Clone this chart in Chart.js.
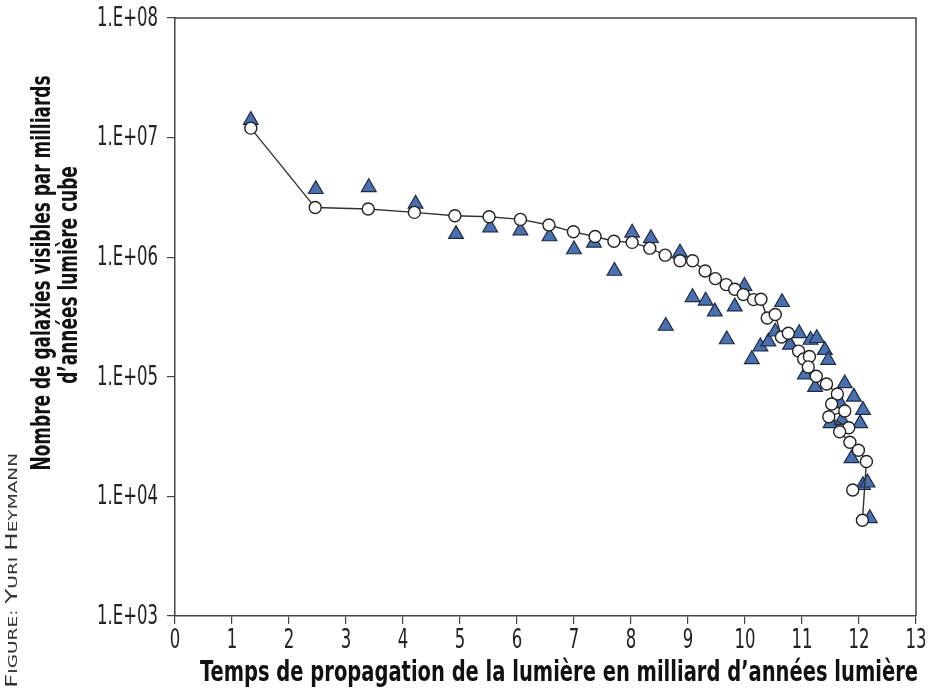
<!DOCTYPE html>
<html><head><meta charset="utf-8">
<script src="https://cdn.jsdelivr.net/npm/chart.js@4"></script>
<style>html,body{margin:0;padding:0;background:#fff;overflow:hidden}</style>
</head><body>
<canvas id="c" width="930" height="691"></canvas>
<script>
// ---- data ----
const circleX = [1.33, 2.46, 3.39, 4.20, 4.91, 5.51, 6.06, 6.56, 6.99, 7.37, 7.70, 8.02, 8.33, 8.60, 8.86, 9.08, 9.30, 9.48, 9.67, 9.82, 9.97, 10.15, 10.28, 10.39, 10.53, 10.64, 10.76, 10.94, 11.03, 11.13, 11.11, 11.25, 11.43, 11.62, 11.52, 11.75, 11.47, 11.82, 11.66, 11.84, 11.99, 12.13, 12.06, 11.89];
const circleY = [1.2e7, 2.6e6, 2.53e6, 2.37e6, 2.22e6, 2.18e6, 2.07e6, 1.86e6, 1.63e6, 1.49e6, 1.36e6, 1.33e6, 1.19e6, 1.04e6, 9.33e5, 9.33e5, 7.67e5, 6.62e5, 5.9e5, 5.39e5, 4.87e5, 4.42e5, 4.45e5, 3.1e5, 3.32e5, 2.15e5, 2.31e5, 1.64e5, 1.41e5, 1.48e5, 1.21e5, 1.01e5, 8.7e4, 7.18e4, 5.93e4, 5.18e4, 4.64e4, 3.75e4, 3.47e4, 2.84e4, 2.43e4, 1.96e4, 6.31e3, 1.13e4];
const triX = [1.33, 2.47, 3.40, 4.22, 4.93, 5.53, 6.06, 6.57, 7.00, 7.35, 7.71, 8.02, 8.35, 8.61, 8.86, 9.08, 9.31, 9.47, 9.68, 9.82, 9.99, 10.12, 10.27, 10.41, 10.53, 10.65, 10.79, 10.95, 11.05, 11.15, 11.23, 11.26, 11.40, 11.46, 11.50, 11.67, 11.70, 11.75, 11.87, 11.91, 12.02, 12.07, 12.07, 12.15, 12.19];
const triY = [1.40e7, 3.7e6, 3.84e6, 2.79e6, 1.56e6, 1.77e6, 1.67e6, 1.49e6, 1.16e6, 1.32e6, 7.67e5, 1.60e6, 1.44e6, 2.66e5, 1.09e6, 4.62e5, 4.32e5, 3.51e5, 2.05e5, 3.86e5, 5.74e5, 1.40e5, 1.79e5, 1.97e5, 2.38e5, 4.20e5, 1.85e5, 2.31e5, 1.04e5, 2.03e5, 8.2e4, 2.10e5, 1.67e5, 1.38e5, 4.08e4, 6.0e4, 4.35e4, 8.8e4, 2.08e4, 6.8e4, 4.08e4, 5.27e4, 1.24e4, 1.30e4, 6.56e3];
const xTicks = [0,1,2,3,4,5,6,7,8,9,10,11,12,13];
const yTicks = [1e3,1e4,1e5,1e6,1e7,1e8];
const xTitle = 'Temps de propagation de la lumière en milliard d’années lumière';
const yTitleLines = ['Nombre de galaxies visibles par milliards', 'd’années lumière cube'];
const creditParts = [['F',1],['IGURE: ',0],['Y',1],['URI ',0],['H',1],['EYMANN',0]];

const NARROW = "'Liberation Sans Narrow','DejaVu Sans Condensed','Roboto Condensed','Liberation Sans',sans-serif";
const TICKFONT = "26px " + NARROW;

const circlePts = circleX.map((x,i)=>({x:x, y:circleY[i]}));
const triPts = triX.map((x,i)=>({x:x, y:triY[i]}));
const yLabel = v => '1.E+' + String(Math.round(Math.log10(v))).padStart(2, '0');

function drawSqueezed(ctx, text, font, cx, cy, s, align){
  ctx.save();
  ctx.font = font;
  ctx.translate(cx, cy);
  ctx.scale(s, 1);
  ctx.textAlign = align || 'center';
  ctx.textBaseline = 'middle';
  ctx.fillText(text, 0, 0);
  ctx.restore();
}
function widthOf(ctx, text, font){ ctx.save(); ctx.font = font; const w = ctx.measureText(text).width; ctx.restore(); return w; }

const decor = {
  id: 'decor',
  beforeDatasetsDraw(chart){
    const {ctx, chartArea:a} = chart;
    ctx.save();
    ctx.strokeStyle = '#444';
    ctx.lineWidth = 1.5;
    ctx.beginPath();
    ctx.moveTo(a.left, a.top); ctx.lineTo(a.right, a.top); ctx.lineTo(a.right, a.bottom);
    ctx.stroke();
    ctx.restore();
  },
  afterDraw(chart){
    const ctx = chart.ctx;
    ctx.save();
    // tick labels (condensed), positioned by the library's scales
    ctx.fillStyle = '#222';
    const ts = 61 / widthOf(ctx, '1.E+08', TICKFONT);
    const ys = chart.scales.y, xs = chart.scales.x;
    ys.ticks.forEach(t => {
      drawSqueezed(ctx, yLabel(t.value), TICKFONT, ys.right - 17, ys.getPixelForValue(t.value) + 1, ts, 'right');
    });
    xs.ticks.forEach(t => {
      drawSqueezed(ctx, String(t.value), TICKFONT, xs.getPixelForValue(t.value), xs.top + 25, ts, 'center');
    });
    ctx.fillStyle = '#111';
    // x title
    const fX = "bold 29px " + NARROW;
    drawSqueezed(ctx, xTitle, fX, 559, 673, 718 / widthOf(ctx, xTitle, fX));
    // y title (rotated)
    const fY = "bold 27px " + NARROW;
    const s = 395 / widthOf(ctx, yTitleLines[0], fY);
    ctx.save(); ctx.translate(43, 273); ctx.rotate(-Math.PI/2);
    drawSqueezed(ctx, yTitleLines[0], fY, 0, 0, s);
    ctx.restore();
    ctx.save(); ctx.translate(70, 275); ctx.rotate(-Math.PI/2);
    drawSqueezed(ctx, yTitleLines[1], fY, 0, 0, s);
    ctx.restore();
    // credit (small caps, rotated)
    ctx.save();
    ctx.fillStyle = '#333';
    ctx.translate(11, 688); ctx.rotate(-Math.PI/2);
    const big = "16px " + NARROW, small = "12px " + NARROW;
    let total = 0;
    creditParts.forEach(p=>{ total += widthOf(ctx, p[0], p[1]?big:small); });
    ctx.scale(235 / total, 1);
    ctx.textBaseline = 'alphabetic';
    ctx.textAlign = 'left';
    let xx = 0;
    creditParts.forEach(p=>{ ctx.font = p[1]?big:small; ctx.fillText(p[0], xx, 6); xx += ctx.measureText(p[0]).width; });
    ctx.restore();
    ctx.restore();
  }
};

new Chart(document.getElementById('c'), {
  type: 'scatter',
  data: {
    datasets: [
      {
        label: 'modèle',
        data: circlePts,
        showLine: true,
        borderColor: '#333',
        borderWidth: 1.4,
        pointStyle: 'circle',
        pointRadius: 6,
        pointBackgroundColor: '#fff',
        pointBorderColor: '#222',
        pointBorderWidth: 1.4,
        segment: { borderColor: c => c.p1DataIndex === circleX.length - 1 ? 'rgba(0,0,0,0)' : '#333' },
        order: 0
      },
      {
        label: 'observations',
        data: triPts,
        showLine: false,
        pointStyle: 'triangle',
        pointRadius: 8.5,
        pointBackgroundColor: '#4a70b0',
        pointBorderColor: '#1c2a44',
        pointBorderWidth: 1.2,
        order: 1
      }
    ]
  },
  options: {
    responsive: false,
    animation: false,
    events: [],
    layout: { padding: { top: 18, right: 14, left: 0, bottom: 0 } },
    plugins: { legend: { display: false }, tooltip: { enabled: false }, title: { display: false } },
    scales: {
      x: {
        type: 'linear', min: 0, max: 13,
        afterBuildTicks: sc => { sc.ticks = xTicks.map(v => ({ value: v })); },
        afterFit: sc => { sc.height = 75; },
        ticks: { autoSkip: false, maxRotation: 0, color: 'rgba(0,0,0,0)', padding: 4, font: { family: NARROW, size: 8 }, callback: v => String(v) },
        grid: { drawOnChartArea: false, drawTicks: true, tickLength: 8, color: '#444', lineWidth: 1.2 },
        border: { color: '#444', width: 1.5 }
      },
      y: {
        type: 'logarithmic', min: 1e3, max: 1e8,
        afterBuildTicks: sc => { sc.ticks = yTicks.map(v => ({ value: v })); },
        afterFit: sc => { sc.width = 175; },
        ticks: { autoSkip: false, color: 'rgba(0,0,0,0)', padding: 8, font: { family: NARROW, size: 8 }, callback: yLabel },
        grid: { drawOnChartArea: false, drawTicks: true, tickLength: 8, color: '#444', lineWidth: 1.2 },
        border: { color: '#444', width: 1.5 }
      }
    }
  },
  plugins: [decor]
});
</script>
</body></html>
